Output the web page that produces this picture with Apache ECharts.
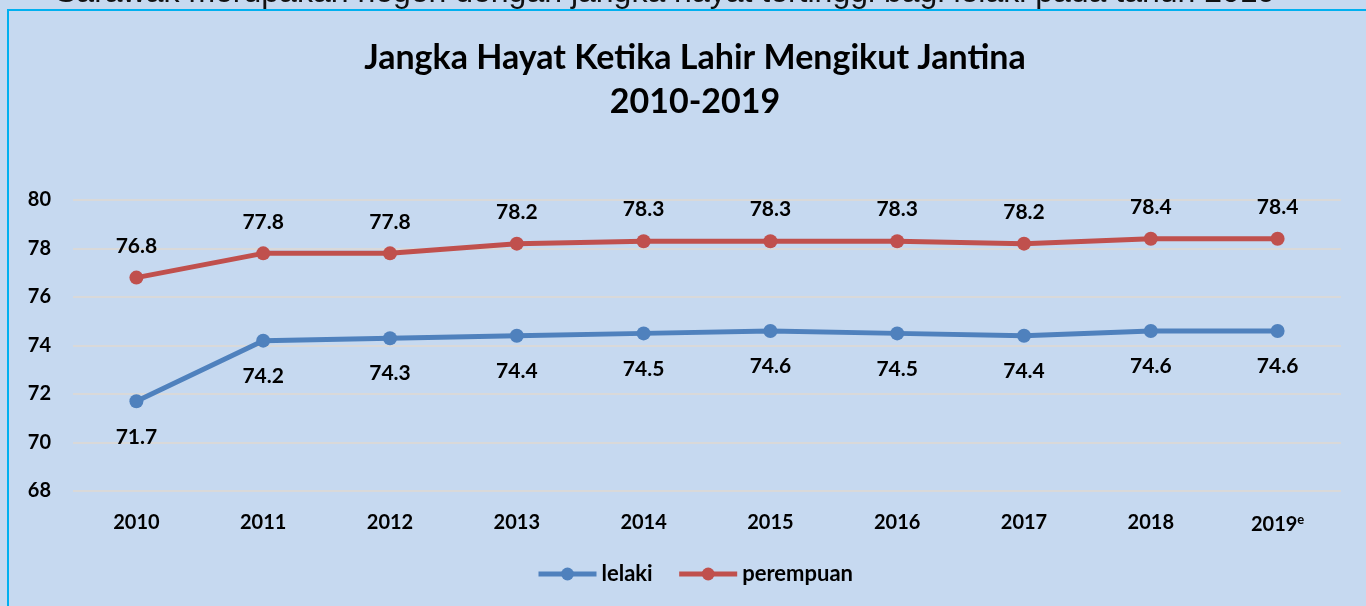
<!DOCTYPE html>
<html>
<head>
<meta charset="utf-8">
<script src="https://cdn.jsdelivr.net/npm/echarts@6/dist/echarts.min.js"></script>
<style>
  html, body { margin: 0; padding: 0; background: #c6d9f0; }
  #chart { width: 1366px; height: 606px; }
</style>
</head>
<body>
<div id="chart"></div>
<script>
const years = ["2010", "2011", "2012", "2013", "2014", "2015", "2016", "2017", "2018", "2019"];
const lelaki = [71.7, 74.2, 74.3, 74.4, 74.5, 74.6, 74.5, 74.4, 74.6, 74.6];
const perempuan = [76.8, 77.8, 77.8, 78.2, 78.3, 78.3, 78.3, 78.2, 78.4, 78.4];
const seriesNames = ["lelaki", "perempuan"];
const titleLines = ["Jangka Hayat Ketika Lahir Mengikut Jantina", "2010-2019"];
const topNote = "Sarawak merupakan negeri dengan jangka hayat tertinggi bagi lelaki pada tahun 2019";

const font = "Lato, 'Open Sans', sans-serif";
const chart = echarts.init(document.getElementById("chart"), null, { renderer: "canvas" });

const option = {
  backgroundColor: "#c6d9f0",
  animation: false,
  title: {
    text: titleLines.join("\n"),
    left: 690,
    textAlign: "center",
    top: 31,
    textStyle: {
      fontFamily: font,
      fontWeight: "bold",
      fontSize: 34,
      lineHeight: 44,
      color: "#000",
    },
  },
  graphic: [
    {
      type: "text",
      left: 55,
      top: -23,
      style: {
        text: topNote,
        font: "32px 'Liberation Sans', Arial, sans-serif",
        fill: "#111",
      },
    },
    {
      type: "polyline",
      shape: { points: [[8, 606], [8, 10], [1366, 10]] },
      style: { stroke: "#00b0f0", lineWidth: 2, fill: null },
    },
  ],
  legend: {
    data: seriesNames,
    bottom: 16,
    left: 531,
    itemWidth: 58,
    itemHeight: 16,
    itemGap: 24,
    lineStyle: { width: 5 },
    textStyle: {
      fontFamily: font,
      fontWeight: "bold",
      fontSize: 22,
      color: "#000",
    },
  },
  grid: {
    left: 73,
    right: 25,
    top: 200,
    bottom: 115,
    containLabel: false,
  },
  xAxis: {
    type: "category",
    data: years,
    boundaryGap: true,
    axisLine: { show: false },
    axisTick: { show: false },
    axisLabel: {
      interval: 0,
      margin: 22,
      fontFamily: font,
      fontWeight: "bold",
      fontSize: 20,
      color: "#000",
      formatter: (v) => (v === "2019" ? "{b|2019}{s|e}" : "{b|" + v + "}"),
      rich: {
        b: { fontFamily: font, fontWeight: "bold", fontSize: 20, color: "#000" },
        s: { fontFamily: font, fontWeight: "bold", fontSize: 13, color: "#000", verticalAlign: "top", padding: [0, 0, 10, 0] },
      },
    },
  },
  yAxis: {
    type: "value",
    min: 68,
    max: 80,
    interval: 2,
    axisLine: { show: false },
    axisTick: { show: false },
    splitLine: { lineStyle: { color: "#d9d9d9", width: 2 } },
    axisLabel: {
      margin: 22,
      fontFamily: font,
      fontWeight: "bold",
      fontSize: 20,
      color: "#000",
    },
  },
  series: [
    {
      name: seriesNames[0],
      type: "line",
      data: lelaki,
      color: "#4f81bd",
      symbol: "circle",
      symbolSize: 14,
      lineStyle: { width: 5, color: "#4f81bd" },
      itemStyle: { color: "#4f81bd" },
      label: {
        show: true,
        position: "bottom",
        distance: 18,
        fontFamily: font,
        fontWeight: "bold",
        fontSize: 21,
        color: "#000",
        formatter: (p) => p.value.toFixed(1),
      },
    },
    {
      name: seriesNames[1],
      type: "line",
      data: perempuan,
      color: "#c0504d",
      symbol: "circle",
      symbolSize: 14,
      lineStyle: { width: 5, color: "#c0504d" },
      itemStyle: { color: "#c0504d" },
      label: {
        show: true,
        position: "top",
        distance: 14,
        fontFamily: font,
        fontWeight: "bold",
        fontSize: 21,
        color: "#000",
        formatter: (p) => p.value.toFixed(1),
      },
    },
  ],
};

chart.setOption(option);
</script>
</body>
</html>
